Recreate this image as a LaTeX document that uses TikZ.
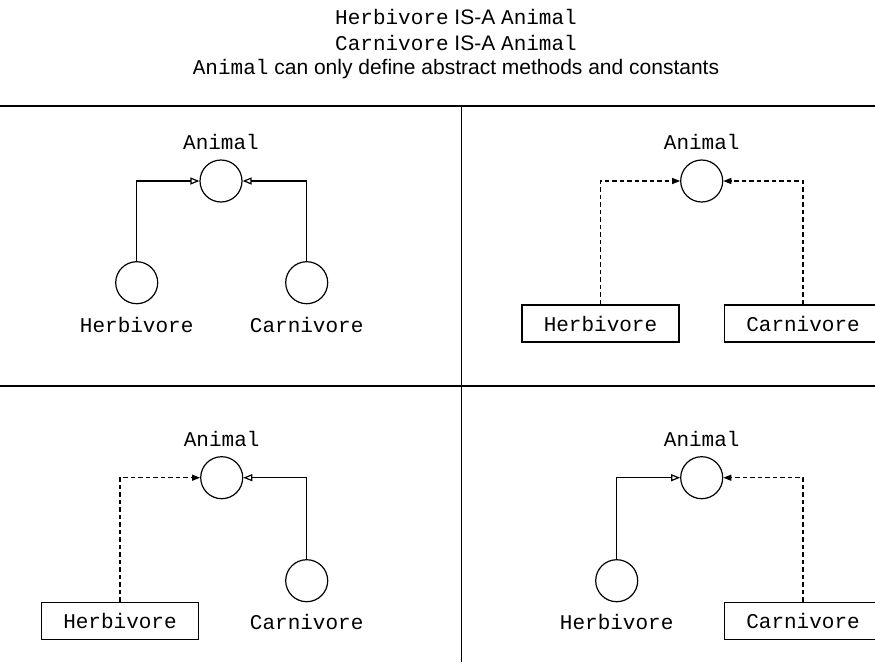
\documentclass[tikz,border=0pt]{standalone}
\usepackage{fontspec}
\setmainfont{Liberation Sans}
\setmonofont{Liberation Mono}
\usetikzlibrary{positioning, arrows.meta}

\tikzset{
  iface/.style={circle, draw, line width=1.2pt, minimum size=42pt, inner sep=0pt},
  klass/.style={rectangle, draw, line width=1.2pt, minimum width=157pt, minimum height=37pt, inner sep=0pt,
                font=\fontsize{21}{25}\selectfont\ttfamily},
  lbl/.style={inner sep=0pt, font=\fontsize{21}{25}\selectfont\ttfamily},
  heading/.style={inner sep=0pt, font=\fontsize{21}{25}\selectfont},
  extend/.style={line width=1.2pt, -{Triangle[open, length=9pt, width=7pt]}},
  implement/.style={line width=1.2pt, dash pattern=on 4.5pt off 3pt, -{Triangle[length=8pt, width=6pt]}},
  divider/.style={line width=1.2pt}
}

\begin{document}
\begin{tikzpicture}[x=1pt, y=-1pt, node distance=40pt, on grid]
   \useasboundingbox (0,0) rectangle (875,662);

   % heading
   \node[heading] (t_1) at (456,16.5) {\texttt{Herbivore} IS-A \texttt{Animal}};
   \node[heading] (t_2) at (456,43) {\texttt{Carnivore} IS-A \texttt{Animal}};
   \node[heading] (t_3) at (456,69.5) {\texttt{Animal} can only define abstract methods and constants};

   % quadrants
   \coordinate (l_w) at (0,106);
   \coordinate (l_e) at (875,106);
   \coordinate (m_w) at (0,386);
   \coordinate (m_e) at (875,386);
   \coordinate (v_n) at (461.7,106);
   \coordinate (v_s) at (461.7,662);
   \draw[divider] (l_w) -- (l_e);
   \draw[divider] (m_w) -- (m_e);
   \draw[divider] (v_n) -- (v_s);

   % top left: both sides extend
   \node[iface] (a_1) at (221,181) {};
   \node[lbl] (a_1t) [above=39pt of a_1] {Animal};
   \node[iface] (h_1) at (136.7,282.7) {};
   \node[lbl] (h_1t) [below=42pt of h_1] {Herbivore};
   \node[iface] (c_1) at (306.7,282.7) {};
   \node[lbl] (c_1t) [below=42pt of c_1] {Carnivore};
   \draw[extend] (h_1) |- (a_1);
   \draw[extend] (c_1) |- (a_1);

   % top right: both sides implement
   \node[iface] (a_2) at (701.7,181) {};
   \node[lbl] (a_2t) [above=39pt of a_2] {Animal};
   \node[klass] (h_2) at (600.5,323.5) {Herbivore};
   \node[klass] (c_2) at (803,323.5) {Carnivore};
   \draw[implement] (h_2) |- (a_2);
   \draw[implement] (c_2) |- (a_2);

   % bottom left
   \node[iface] (a_3) at (221.7,477.7) {};
   \node[lbl] (a_3t) [above=39pt of a_3] {Animal};
   \node[klass] (h_3) at (120,621) {Herbivore};
   \node[iface] (c_3) at (306.7,580.7) {};
   \node[lbl] (c_3t) [below=41pt of c_3] {Carnivore};
   \draw[implement] (h_3) |- (a_3);
   \draw[extend] (c_3) |- (a_3);

   % bottom right
   \node[iface] (a_4) at (701.7,477.7) {};
   \node[lbl] (a_4t) [above=39pt of a_4] {Animal};
   \node[iface] (h_4) at (616.7,580.7) {};
   \node[lbl] (h_4t) [below=41pt of h_4] {Herbivore};
   \node[klass] (c_4) at (803,621) {Carnivore};
   \draw[extend] (h_4) |- (a_4);
   \draw[implement] (c_4) |- (a_4);
\end{tikzpicture}
\end{document}
